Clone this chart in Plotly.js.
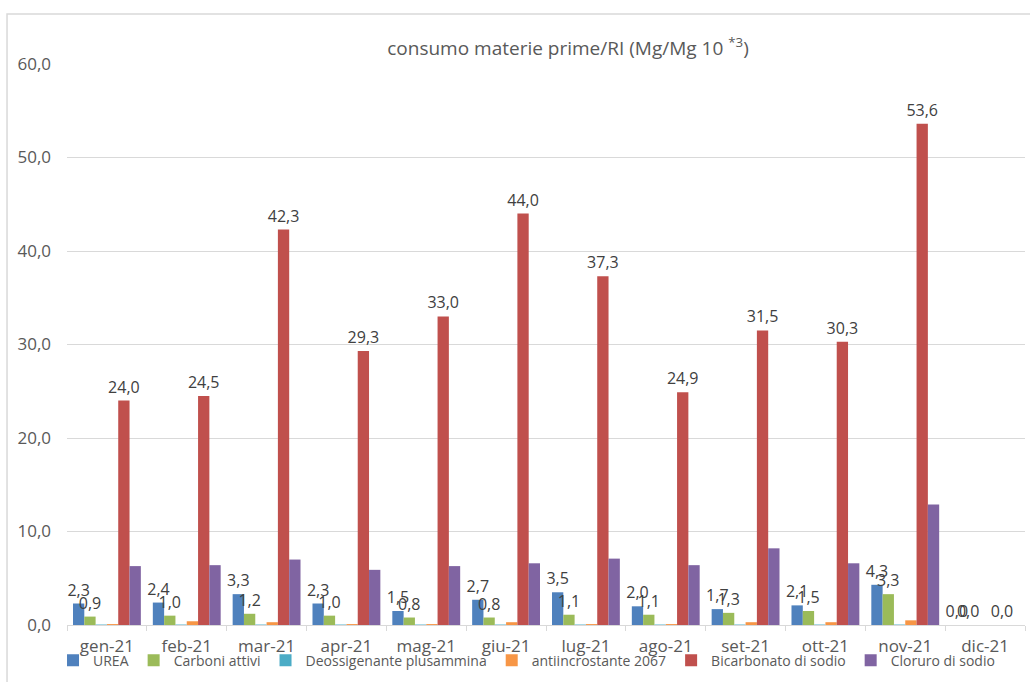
<!DOCTYPE html>
<html>
<head>
<meta charset="utf-8">
<script src="https://cdn.plot.ly/plotly-3.0.1.min.js"></script>
<style>html,body{margin:0;padding:0;background:#fff;}#chart{width:1030px;height:682px;}</style>
</head>
<body>
<div id="chart"></div>
<script>
const months = ["gen-21","feb-21","mar-21","apr-21","mag-21","giu-21","lug-21","ago-21","set-21","ott-21","nov-21","dic-21"];
const urea = [2.3, 2.4, 3.3, 2.3, 1.5, 2.7, 3.5, 2.0, 1.7, 2.1, 4.3, 0.0];
const carboni = [0.9, 1.0, 1.2, 1.0, 0.8, 0.8, 1.1, 1.1, 1.3, 1.5, 3.3, 0.0];
const deossigenante = [0.05, 0.05, 0.05, 0.05, 0.05, 0.05, 0.05, 0.05, 0.05, 0.05, 0.05, 0.0];
const antiincrostante = [0.1, 0.4, 0.3, 0.1, 0.1, 0.3, 0.1, 0.1, 0.3, 0.3, 0.5, 0.0];
const bicarbonato = [24.0, 24.5, 42.3, 29.3, 33.0, 44.0, 37.3, 24.9, 31.5, 30.3, 53.6, 0.0];
const cloruro = [6.3, 6.4, 7.0, 5.9, 6.3, 6.6, 7.1, 6.4, 8.2, 6.6, 12.9, 0.0];

const FONT = "Open Sans";
const labelFont = {family: FONT, size: 16, color: "#404040"};

function series(name, values, color, withLabels) {
  const t = {
    type: "bar", name: name, x: months, y: values,
    marker: {color: color},
    cliponaxis: false
  };
  if (withLabels) {
    t.texttemplate = "%{y:.1f}";
    t.textposition = "outside";
    t.textfont = labelFont;
    t.constraintext = "none";
  }
  return t;
}

const data = [
  series("UREA", urea, "#4f81bd", true),
  series("Carboni attivi", carboni, "#9bbb59", true),
  series("Deossigenante plusammina", deossigenante, "#4bacc6", false),
  series("antiincrostante 2067", antiincrostante, "#f79646", false),
  series("Bicarbonato di sodio", bicarbonato, "#c0504d", true),
  series("Cloruro di sodio", cloruro, "#8064a2", false)
];

const layout = {
  width: 1030, height: 682,
  margin: {l: 67, r: 5, t: 64, b: 57},
  paper_bgcolor: "#fff", plot_bgcolor: "#fff",
  separators: ",.",
  barmode: "group", bargap: 0.15, bargroupgap: 0,
  showlegend: true,
  font: {family: FONT, color: "#595959"},
  title: {
    text: "consumo materie prime/RI (Mg/Mg 10 <sup>*3</sup>)",
    font: {family: FONT, size: 19, color: "#595959"},
    x: 568/1030, xref: "container", xanchor: "center",
    y: 1 - 48/682, yref: "container", yanchor: "middle"
  },
  xaxis: {
    type: "category",
    tickson: "boundaries",
    ticks: "outside", ticklen: 5, tickcolor: "#d9d9d9",
    showline: true, linecolor: "#d9d9d9", linewidth: 1,
    showgrid: false, zeroline: false,
    ticklabelstandoff: 6,
    tickfont: {family: FONT, size: 17, color: "#595959"}
  },
  yaxis: {
    range: [0, 60], dtick: 10, tickformat: ".1f",
    showgrid: true, gridcolor: "#d9d9d9", gridwidth: 1,
    zeroline: false, showline: false, ticks: "",
    ticklabelstandoff: 15,
    tickfont: {family: FONT, size: 17, color: "#595959"}
  },
  legend: {
    orientation: "h", x: -0.0146, xanchor: "left", y: -0.035, yanchor: "top",
    font: {family: FONT, size: 14, color: "#595959"},
    itemwidth: 30, tracegroupgap: 0, bgcolor: "rgba(0,0,0,0)"
  },
  shapes: [{
    type: "rect", xref: "paper", yref: "paper",
    x0: -0.0626, x1: 1.02, y0: -0.14, y1: 1.089,
    line: {color: "#d9d9d9", width: 1.5}, fillcolor: "rgba(0,0,0,0)", layer: "below"
  }]
};

Plotly.newPlot("chart", data, layout, {displayModeBar: false, staticPlot: true});
</script>
</body>
</html>
